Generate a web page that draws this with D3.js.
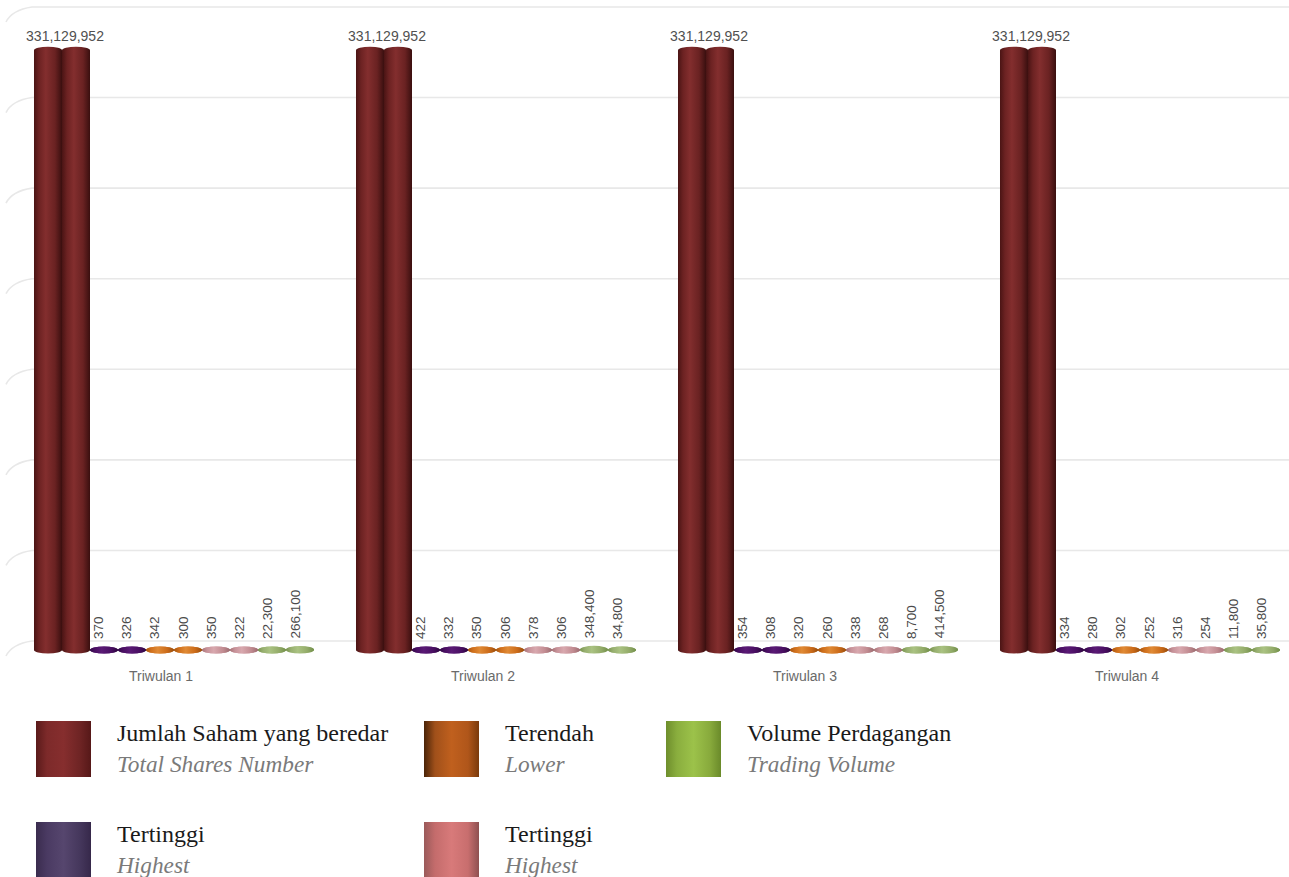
<!DOCTYPE html>
<html>
<head>
<meta charset="utf-8">
<script src="https://cdn.jsdelivr.net/npm/d3@7/dist/d3.min.js"></script>
<style>
  html, body { margin: 0; padding: 0; background: #ffffff; }
  svg { display: block; }
</style>
</head>
<body>
<div id="chart"></div>
<script>
// ---------- DATA ----------
const categories = ["Triwulan 1", "Triwulan 2", "Triwulan 3", "Triwulan 4"];
const sharesA = [331129952, 331129952, 331129952, 331129952];
const sharesB = [331129952, 331129952, 331129952, 331129952];
const highA   = [370, 422, 354, 334];
const highB   = [326, 332, 308, 280];
const lowA    = [342, 350, 320, 302];
const lowB    = [300, 306, 260, 252];
const high2A  = [350, 378, 338, 316];
const high2B  = [322, 306, 268, 254];
const volA    = [22300, 348400, 8700, 11800];
const volB    = [266100, 34800, 414500, 35800];
const yTicks  = [0, 50000000, 100000000, 150000000, 200000000, 250000000, 300000000, 350000000];

const legendMain = ["Jumlah Saham yang beredar", "Tertinggi", "Terendah", "Tertinggi", "Volume Perdagangan"];
const legendSub  = ["Total Shares Number", "Highest", "Lower", "Highest", "Trading Volume"];

// ---------- SETUP ----------
const W = 1289, H = 877;
const svg = d3.select("#chart").append("svg").attr("width", W).attr("height", H);
const defs = svg.append("defs");

const seriesDefs = [
  { key: "sharesA", vals: sharesA, grp: "shares", label: true },
  { key: "sharesB", vals: sharesB, grp: "shares", label: false },
  { key: "highA", vals: highA, grp: "high", label: true },
  { key: "highB", vals: highB, grp: "high", label: true },
  { key: "lowA", vals: lowA, grp: "low", label: true },
  { key: "lowB", vals: lowB, grp: "low", label: true },
  { key: "high2A", vals: high2A, grp: "high2", label: true },
  { key: "high2B", vals: high2B, grp: "high2", label: true },
  { key: "volA", vals: volA, grp: "vol", label: true },
  { key: "volB", vals: volB, grp: "vol", label: true }
];

const barColors = {
  shares: ["#4a1414", "#6c2222", "#832e2e", "#6a2222", "#3a0f0f"],
  high:   ["#330848", "#4a0f63", "#5a1a75", "#4a0f63", "#2e0640"],
  low:    ["#a8560f", "#d0701c", "#e08a35", "#cc6c1a", "#9a4e0c"],
  high2:  ["#a87478", "#c8939a", "#d8a8ae", "#c28c92", "#9c6c70"],
  vol:    ["#7a9450", "#98b070", "#aac282", "#94ac6a", "#72904a"]
};
Object.entries(barColors).forEach(([k, c]) => {
  const g = defs.append("linearGradient").attr("id", "bar-" + k)
    .attr("x1", "0%").attr("x2", "100%").attr("y1", "0%").attr("y2", "0%");
  [0, 0.18, 0.42, 0.75, 1].forEach((o, i) => g.append("stop").attr("offset", o).attr("stop-color", c[i]));
});

// ---------- SCALES ----------
const x0 = d3.scaleBand().domain(categories).range([13, 1301]).paddingInner(0.1304).paddingOuter(0.0652);
const x1 = d3.scaleBand().domain(seriesDefs.map(d => d.key)).range([0, x0.bandwidth()]).padding(0);
const y = d3.scaleLinear().domain([0, 350000000]).range([650, 16]);
const wallOffset = -9;
const fmt = d3.format(",");

// ---------- GRID (back wall) ----------
const grid = svg.append("g");
yTicks.forEach(t => {
  const gy = y(t) + wallOffset;
  grid.append("path")
    .attr("d", `M6,${gy + 15} Q12,${gy + 3} 32,${gy} L${W},${gy}`)
    .attr("fill", "none").attr("stroke", "#e8e8e8").attr("stroke-width", 1.6);
});

// ---------- BARS ----------
const ry = 3.5;
categories.forEach((cat, ci) => {
  const g = svg.append("g").attr("transform", `translate(${x0(cat)},0)`);
  seriesDefs.forEach(s => {
    const v = s.vals[ci];
    const bx = x1(s.key), bw = x1.bandwidth();
    const top = y(v), base = y(0);
    const fill = `url(#bar-${s.grp})`;
    g.append("ellipse").attr("cx", bx + bw / 2).attr("cy", base).attr("rx", bw / 2).attr("ry", ry).attr("fill", fill);
    g.append("rect").attr("x", bx).attr("y", top).attr("width", bw).attr("height", Math.max(0, base - top)).attr("fill", fill);
    g.append("ellipse").attr("cx", bx + bw / 2).attr("cy", top).attr("rx", bw / 2).attr("ry", ry)
      .attr("fill", fill).attr("opacity", 1);
  });
  // labels
  seriesDefs.forEach(s => {
    if (!s.label) return;
    const v = s.vals[ci];
    const bx = x1(s.key), bw = x1.bandwidth();
    if (s.grp === "shares") {
      g.append("text")
        .attr("x", bx + bw + 3).attr("y", y(v) - 9)
        .attr("text-anchor", "middle")
        .attr("font-family", "Liberation Sans, Arial, sans-serif").attr("font-size", 14)
        .attr("fill", "#505050").text(fmt(v));
    } else {
      const lx = bx + bw / 2 - 5 + 4.5, ly = y(v) - 11;
      g.append("text")
        .attr("transform", `translate(${lx},${ly}) rotate(-90)`)
        .attr("text-anchor", "start")
        .attr("font-family", "Liberation Sans, Arial, sans-serif").attr("font-size", 13.5)
        .attr("fill", "#4a4a4a").text(fmt(v));
    }
  });
});

// ---------- CATEGORY AXIS LABELS ----------
svg.append("g").selectAll("text").data(categories).join("text")
  .attr("x", d => x0(d) + x0.bandwidth() / 2 - 13)
  .attr("y", 681)
  .attr("text-anchor", "middle")
  .attr("font-family", "Liberation Sans, Arial, sans-serif").attr("font-size", 14)
  .attr("fill", "#6a6a6a")
  .text(d => d);

// ---------- LEGEND ----------
const legendSwatch = [
  { id: "lg-shares", stops: ["#5a1a1a", "#7d2a2a", "#862e2e", "#6e2424", "#561818"] },
  { id: "lg-high",   stops: ["#3a2c4e", "#4a3a62", "#56466e", "#45375c", "#36284a"] },
  { id: "lg-low",    stops: ["#4a2408", "#a0501a", "#c0601e", "#b0561a", "#7a3a0c"] },
  { id: "lg-high2",  stops: ["#9a5a5a", "#c46c6c", "#d87a7a", "#c86e6e", "#8e5050"] },
  { id: "lg-vol",    stops: ["#6e8e2c", "#8aae3e", "#9cc24a", "#88aa3c", "#6a8a2a"] }
];
legendSwatch.forEach(s => {
  const g = defs.append("linearGradient").attr("id", s.id)
    .attr("x1", "0%").attr("x2", "100%").attr("y1", "0%").attr("y2", "0%");
  [0, 0.2, 0.5, 0.8, 1].forEach((o, i) => g.append("stop").attr("offset", o).attr("stop-color", s.stops[i]));
});
const legendCols = [36, 424, 666];
const legendRows = [721, 822];
const legendPos = [[0, 0], [0, 1], [1, 0], [1, 1], [2, 0]];
const lg = svg.append("g");
legendMain.forEach((t, i) => {
  const [c, r] = legendPos[i];
  const lx = legendCols[c], ly = legendRows[r];
  lg.append("rect").attr("x", lx).attr("y", ly).attr("width", 55).attr("height", 56)
    .attr("fill", `url(#${legendSwatch[i].id})`);
  lg.append("text").attr("x", lx + 81).attr("y", ly + 20)
    .attr("font-family", "Liberation Serif, 'Times New Roman', serif").attr("font-size", 24)
    .attr("fill", "#1a1a1a").text(t);
  lg.append("text").attr("x", lx + 81).attr("y", ly + 51)
    .attr("font-family", "Liberation Serif, 'Times New Roman', serif").attr("font-size", 23.3)
    .attr("font-style", "italic").attr("fill", "#7a7a7a").text(legendSub[i]);
});
</script>
</body>
</html>
